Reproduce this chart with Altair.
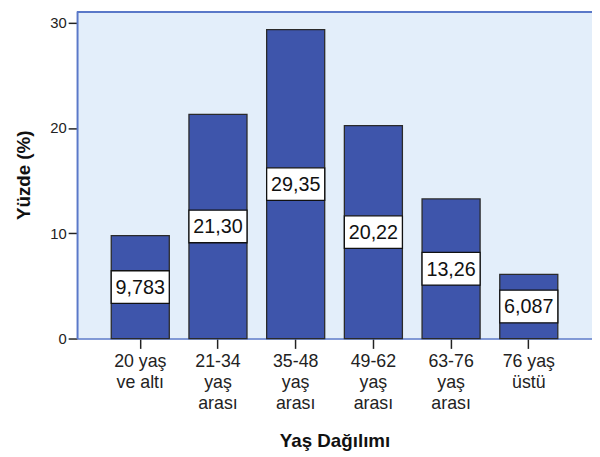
import altair as alt
import pandas as pd

categories = ["20 yaş|ve altı", "21-34|yaş|arası", "35-48|yaş|arası", "49-62|yaş|arası", "63-76|yaş|arası", "76 yaş|üstü"]
values = [9.783, 21.30, 29.35, 20.22, 13.26, 6.087]
labels = ["9,783", "21,30", "29,35", "20,22", "13,26", "6,087"]

df = pd.DataFrame({"cat": categories, "v": values, "lab": labels})

FONT = "Liberation Sans"
W, H = 522, 332
YMAX = 31.12

xenc = alt.X("cat:N", sort=None,
             scale=alt.Scale(paddingInner=0.253, paddingOuter=0.44),
             axis=alt.Axis(title="Yaş Dağılımı", labelAngle=0,
                           labelExpr="split(datum.label, '|')",
                           labelFont=FONT, labelFontSize=18, labelColor="#222",
                           labelLineHeight=21.5, labelPadding=4,
                           tickColor="#222", tickSize=10, tickWidth=1.5,
                           domainColor="#5a78c8", domainWidth=1.5,
                           titleFont=FONT, titleFontSize=19, titleFontWeight="bold",
                           titleColor="#111", titlePadding=19))
yscale = alt.Scale(domain=[0, YMAX], nice=False)

base = alt.Chart(df)

bars = base.mark_bar(color="#3e55ab", stroke="#2a2a2a", strokeWidth=1.3).encode(
    x=xenc,
    y=alt.Y("v:Q", scale=yscale,
            axis=alt.Axis(title="Yüzde (%)", values=[0, 10, 20, 30], grid=False,
                          labelFont=FONT, labelFontSize=15, labelColor="#222",
                          labelPadding=2,
                          tickColor="#222", tickSize=9, tickWidth=1.5,
                          domainColor="#5a78c8", domainWidth=2,
                          titleFont=FONT, titleFontSize=19, titleFontWeight="bold",
                          titleColor="#111", titlePadding=17)),
)

boxes = base.transform_calculate(
    lo="datum.v/2 - 1.55", hi="datum.v/2 + 1.55"
).mark_bar(color="white", stroke="#111", strokeWidth=1.3).encode(
    x=alt.X("cat:N", sort=None),
    y=alt.Y("lo:Q", scale=yscale),
    y2="hi:Q",
)

texts = base.transform_calculate(mid="datum.v/2").mark_text(
    font=FONT, fontSize=20, color="#111", dy=1
).encode(
    x=alt.X("cat:N", sort=None),
    y=alt.Y("mid:Q", scale=yscale),
    text="lab:N",
)

top = alt.Chart(pd.DataFrame({"a": [0]})).mark_rule(color="#5a78c8", strokeWidth=2).encode(
    x=alt.value(0), x2=alt.value(W), y=alt.value(1)
)

chart = alt.layer(bars, boxes, texts, top).properties(
    width=W, height=H,
    autosize=alt.AutoSizeParams(type="none"),
    padding={"left": 70, "top": 0, "right": 0, "bottom": 114},
).configure_view(fill="#e3eefa", stroke=None)

chart.save("out.html", embed_options={"renderer": "svg", "actions": False})
